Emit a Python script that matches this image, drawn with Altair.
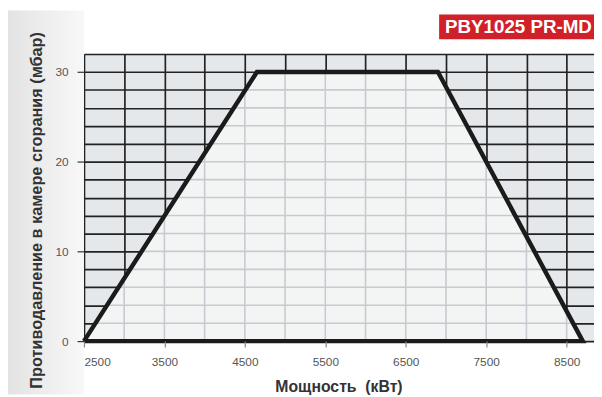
import altair as alt
import numpy as np
import pandas as pd

# ---- data ----
power_kw = [2500, 4650, 6900, 8700]          # trapezoid corners (kW)
pressure_mbar = [0, 30, 30, 0]               # trapezoid corners (mbar)
x_tick_values = [2500, 3500, 4500, 5500, 6500, 7500, 8500]
y_tick_values = [0, 10, 20, 30]
x_grid_values = [2500, 3000, 3500, 4000, 4500, 5000, 5500, 6000, 6500, 7000, 7500, 8000, 8500]
y_grid_values = [0, 2, 4, 6, 8, 10, 12, 14, 16, 18, 20, 22, 24, 26, 28, 30, 32]
model_label = "PBY1025 PR-MD"
x_title = "Мощность\u00a0 (кВт)"
y_title = "Противодавление в камере сгорания (мбар)"

X_DOMAIN = [2500, 8840]
Y_DOMAIN = [0, 32]

xs = alt.Scale(domain=X_DOMAIN, nice=False, zero=False)
ys = alt.Scale(domain=Y_DOMAIN, nice=False)

# trapezoid fill
area_df = pd.DataFrame({"p": power_kw, "q": pressure_mbar})

# outline (closed)
outline_df = pd.DataFrame({
    "p": power_kw + [power_kw[0]],
    "q": pressure_mbar + [pressure_mbar[0]],
    "o": list(range(len(power_kw) + 1)),
})

# light grid lines clipped to the trapezoid
rows = []
for gx in x_grid_values:
    if power_kw[0] < gx < power_kw[-1]:
        top = float(np.interp(gx, power_kw, pressure_mbar))
        rows.append({"x": gx, "x2": gx, "y": 0, "y2": top})
for gy in y_grid_values:
    if 0 < gy <= max(pressure_mbar):
        left = power_kw[0] + (power_kw[1] - power_kw[0]) * gy / pressure_mbar[1]
        right = power_kw[3] - (power_kw[3] - power_kw[2]) * gy / pressure_mbar[2]
        rows.append({"x": left, "x2": right, "y": gy, "y2": gy})
grid_df = pd.DataFrame(rows)

FONT = "Liberation Sans"

label_df = pd.DataFrame({"t": [model_label]})

# soft grey shading on the left margin
shade = alt.Chart(label_df).mark_rect(
    fill=alt.LinearGradient(
        gradient="linear", x1=0, x2=1, y1=0, y2=0,
        stops=[alt.GradientStop(offset=0, color="#e3e3e3"),
               alt.GradientStop(offset=1, color="#f8f8f8")],
    )
).encode(x=alt.value(-77), x2=alt.value(0), y=alt.value(-44), y2=alt.value(345))

area = alt.Chart(area_df).mark_area(color="#f3f5f5", opacity=1).encode(
    x=alt.X("p:Q", scale=xs, axis=alt.Axis(
        orient="top", values=x_grid_values, grid=True, gridColor="#222222",
        gridWidth=1.7, labels=False, ticks=False, domain=False, title=None)),
    y=alt.Y("q:Q", scale=ys, axis=alt.Axis(
        orient="right", values=y_grid_values, grid=True, gridColor="#222222",
        gridWidth=1.7, labels=False, ticks=False, domain=False, title=None)),
)

light_grid = alt.Chart(grid_df).mark_rule(color="#c5cbd0", strokeWidth=1.6).encode(
    x=alt.X("x:Q", scale=xs, axis=None),
    x2="x2:Q",
    y=alt.Y("y:Q", scale=ys, axis=None),
    y2="y2:Q",
)

outline = alt.Chart(outline_df).mark_line(
    color="#1b1b1b", strokeWidth=4.5, strokeJoin="miter"
).encode(
    x=alt.X("p:Q", scale=xs, axis=alt.Axis(
        orient="bottom", values=x_tick_values, format="d", grid=False, domain=False,
        tickSize=6, tickColor="#888888", tickWidth=1.2, labelPadding=10, zindex=1,
        labelFont=FONT, labelFontSize=12, labelColor="#555555",
        title=x_title, titleFont=FONT, titleFontSize=16, titleFontWeight="bold",
        titleColor="#333333", titleX=258, titleY=46, titleBaseline="middle")),
    y=alt.Y("q:Q", scale=ys, axis=alt.Axis(
        orient="left", values=y_tick_values, format="d", grid=False, domain=False,
        tickSize=7, tickColor="#333333", tickWidth=1.2, labelPadding=9, zindex=1,
        labelFont=FONT, labelFontSize=12, labelColor="#555555",
        title=y_title, titleFont=FONT, titleFontSize=16.5, titleFontWeight="bold",
        titleColor="#333333", titleX=-48.5, titleY=158, titleBaseline="middle")),
    order="o:O",
)

badge = alt.Chart(label_df).mark_rect(color="#d0202a").encode(
    x=alt.value(360), x2=alt.value(540), y=alt.value(-40), y2=alt.value(-15)
)
badge_text = alt.Chart(label_df).mark_text(
    color="white", font=FONT, fontSize=19, fontWeight="bold",
    align="left", baseline="middle"
).encode(x=alt.value(366), y=alt.value(-27), text="t:N")

chart = alt.layer(shade, area, light_grid, outline, badge, badge_text).resolve_axis(
    x="independent", y="independent"
).properties(
    width=517, height=291,
    autosize=alt.AutoSizeParams(type="none"),
    padding={"left": 77, "top": 44, "right": 0, "bottom": 54},
    background="white",
).configure_view(fill="#e5e8eb", stroke=None)

chart.save("out.html", embed_options={"renderer": "svg", "actions": False})
